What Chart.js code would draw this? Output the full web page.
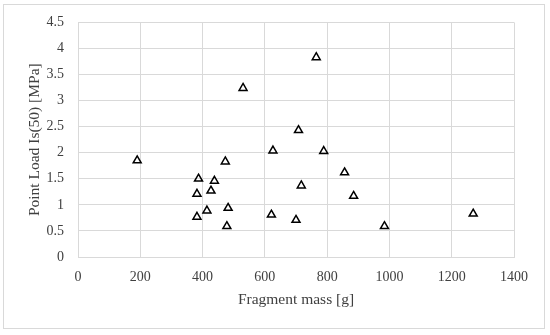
<!DOCTYPE html>
<html lang="en">
<head>
  <meta charset="UTF-8">
  <title>Point Load vs Fragment mass</title>
  <script src="https://cdn.jsdelivr.net/npm/chart.js@4.4.0/dist/chart.umd.min.js"></script>
  <style>
    html, body { margin: 0; padding: 0; background: #fff; }
    #wrap { width: 550px; height: 335px; position: relative; }
  </style>
</head>
<body>
  <div id="wrap"><canvas id="chart"></canvas></div>
  <script>
    // Fragment mass [g] and Point Load Is(50) [MPa]
    const massValues = [190, 387, 438, 382, 427, 414, 382, 482, 478, 621, 473,
                        530, 626, 765, 708, 789, 856, 717, 885, 700, 984, 1269];
    const loadValues = [1.85, 1.50, 1.46, 1.21, 1.27, 0.89, 0.77, 0.94, 0.59, 0.81, 1.83,
                        3.24, 2.04, 3.83, 2.43, 2.03, 1.62, 1.37, 1.17, 0.71, 0.59, 0.83];
    const xTicks = [0, 200, 400, 600, 800, 1000, 1200, 1400];
    const yTicks = [0, 0.5, 1, 1.5, 2, 2.5, 3, 3.5, 4, 4.5];

    const points = massValues.map((m, i) => ({ x: m, y: loadValues[i] }));
    const gridColor = '#d9d9d9';
    const textColor = '#404040';
    const serif = '"Liberation Serif", "DejaVu Serif", serif';

    // light frame round the whole chart
    const framePlugin = {
      id: 'frame',
      beforeDraw(chart) {
        const ctx = chart.ctx;
        ctx.save();
        ctx.fillStyle = '#fff';
        ctx.fillRect(0, 0, chart.width, chart.height);
        ctx.strokeStyle = gridColor;
        ctx.lineWidth = 1;
        ctx.strokeRect(3.5, 4.5, 541, 324);
        ctx.restore();
      }
    };

    new Chart(document.getElementById('chart'), {
      type: 'scatter',
      data: {
        datasets: [{
          data: points,
          pointStyle: 'triangle',
          pointRadius: 4.6,
          pointHoverRadius: 4.6,
          borderColor: '#000',
          backgroundColor: 'rgba(255,255,255,0)',
          borderWidth: 1.5
        }]
      },
      options: {
        responsive: true,
        maintainAspectRatio: false,
        animation: false,
        layout: { padding: { left: 6, right: 36, top: 22, bottom: 0 } },
        plugins: {
          legend: { display: false },
          tooltip: { enabled: false }
        },
        scales: {
          x: {
            type: 'linear',
            min: 0,
            max: 1400,
            afterBuildTicks: s => { s.ticks = xTicks.map(v => ({ value: v })); },
            afterFit: s => { s.height = 78; },
            grid: { color: gridColor, drawTicks: false },
            border: { color: gridColor },
            ticks: {
              color: textColor, padding: 12,
              font: { family: serif, size: 14 },
              callback: v => String(v)
            },
            title: {
              display: true,
              text: 'Fragment mass [g]',
              color: textColor,
              font: { family: serif, size: 15.5 },
              padding: { top: 0, bottom: 26 }
            }
          },
          y: {
            type: 'linear',
            min: 0,
            max: 4.5,
            afterBuildTicks: s => { s.ticks = yTicks.map(v => ({ value: v })); },
            afterFit: s => { s.width = 72; },
            grid: { color: gridColor, drawTicks: false },
            border: { color: gridColor },
            ticks: {
              color: textColor, padding: 14,
              font: { family: serif, size: 14 },
              callback: v => String(v)
            },
            title: {
              display: true,
              text: 'Point Load Is(50) [MPa]',
              color: textColor,
              font: { family: serif, size: 15.5 },
              padding: { top: 20, bottom: 0 }
            }
          }
        }
      },
      plugins: [framePlugin]
    });
  </script>
</body>
</html>
